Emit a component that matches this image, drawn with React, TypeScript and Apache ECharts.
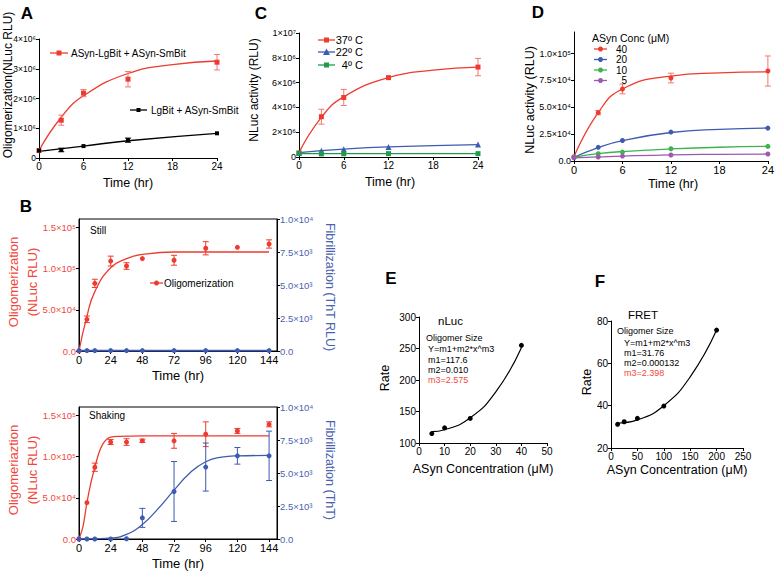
import React, { useEffect, useRef } from 'react';
import * as echarts from 'echarts';

const FF = '"Liberation Sans", Arial, Helvetica, sans-serif';

// ---------- Panel A ----------
const A_T = [0, 3, 6, 12, 24];
const A_RED = [0.25e6, 1.27e6, 2.18e6, 2.65e6, 3.22e6];
const A_RED_ERR = [0, 0.17e6, 0.12e6, 0.26e6, 0.26e6];
const A_BLACK = [0.25e6, 0.27e6, 0.4e6, 0.6e6, 0.83e6];
const A_BLACK_ERR = [0, 0.06e6, 0, 0.07e6, 0];
const A_RED_FIT_T = [0, 3, 6, 12, 18, 24];
const A_RED_FIT = [0.25e6, 1.37e6, 2.09e6, 2.84e6, 3.14e6, 3.26e6];
const A_BLACK_FIT_T = [0, 6, 12, 24];
const A_BLACK_FIT = [0.22e6, 0.4e6, 0.58e6, 0.83e6];
const A_Y_TICKS = [0, 1e6, 2e6, 3e6, 4e6];
const A_Y_LABELS = ['0', '1×10⁶', '2×10⁶', '3×10⁶', '4×10⁶'];

// ---------- Panel C ----------
const C_T = [0, 3, 6, 12, 24];
const C_37 = [0.32e6, 3.25e6, 4.8e6, 6.4e6, 7.25e6];
const C_37_ERR = [0, 0.6e6, 0.65e6, 0, 0.7e6];
const C_22 = [0.35e6, 0.5e6, 0.62e6, 0.8e6, 1.0e6];
const C_4 = [0.3e6, 0.25e6, 0.26e6, 0.27e6, 0.27e6];
const C_37_FIT_T = [0, 3, 6, 12, 18, 24];
const C_37_FIT = [0.35e6, 3.2e6, 4.85e6, 6.4e6, 7.0e6, 7.25e6];
const C_22_FIT_T = [0, 6, 12, 24];
const C_22_FIT = [0.35e6, 0.63e6, 0.81e6, 1.0e6];
const C_4_FIT_T = [0, 24];
const C_4_FIT = [0.28e6, 0.28e6];
const C_Y_TICKS = [0, 2e6, 4e6, 6e6, 8e6, 1e7];
const C_Y_LABELS = ['0', '2×10⁶', '4×10⁶', '6×10⁶', '8×10⁶', '1×10⁷'];

// ---------- Panel D ----------
const D_T = [0, 3, 6, 12, 24];
const D_40 = [0.4e4, 4.5e4, 6.7e4, 7.72e4, 8.37e4];
const D_40_ERR = [0, 0.2e4, 0.45e4, 0.45e4, 1.4e4];
const D_20 = [0.35e4, 1.27e4, 1.91e4, 2.69e4, 3.06e4];
const D_10 = [0.35e4, 0.68e4, 0.83e4, 1.14e4, 1.36e4];
const D_5 = [0.3e4, 0.37e4, 0.46e4, 0.56e4, 0.65e4];
const D_40_FIT_T = [0, 3, 6, 12, 18, 24];
const D_40_FIT = [0.4e4, 4.5e4, 6.7e4, 7.9e4, 8.2e4, 8.3e4];
const D_20_FIT_T = [0, 3, 6, 12, 18, 24];
const D_20_FIT = [0.35e4, 1.25e4, 1.9e4, 2.65e4, 2.95e4, 3.07e4];
const D_10_FIT_T = [0, 3, 6, 12, 18, 24];
const D_10_FIT = [0.35e4, 0.68e4, 0.88e4, 1.12e4, 1.28e4, 1.36e4];
const D_5_FIT_T = [0, 3, 6, 12, 18, 24];
const D_5_FIT = [0.3e4, 0.38e4, 0.46e4, 0.57e4, 0.62e4, 0.65e4];
const D_Y_TICKS = [0, 2.5e4, 5e4, 7.5e4, 1e5];
const D_Y_LABELS = ['0.0', '2.5×10⁴', '5.0×10⁴', '7.5×10⁴', '1.0×10⁵'];

// ---------- Panel B ----------
const B_T = [0, 6, 12, 24, 36, 48, 72, 96, 120, 144];
const B_X_TICKS = [0, 24, 48, 72, 96, 120, 144];
const B_L_TICKS = [0, 5e4, 1e5, 1.5e5];
const B_L_LABELS = ['0.0', '5.0×10⁴', '1.0×10⁵', '1.5×10⁵'];
const B_R_TICKS = [0, 2500, 5000, 7500, 10000];
const B_R_LABELS = ['0.0', '2.5×10³', '5.0×10³', '7.5×10³', '1.0×10⁴'];

const STILL_OLIG = [0, 3.84e4, 8.2e4, 1.09e5, 1.03e5, 1.12e5, 1.1e5, 1.245e5, 1.257e5, 1.297e5];
const STILL_OLIG_ERR = [0, 0.4e4, 0.5e4, 0.6e4, 0.4e4, 0, 0.6e4, 0.8e4, 0, 0.5e4];
const STILL_FIB = [30, 30, 30, 30, 30, 30, 30, 30, 30, 30];
const STILL_FIT_T = [0, 6, 12, 24, 36, 48, 72, 96, 144];
const STILL_FIT = [0, 4.2e4, 7.2e4, 1.01e5, 1.12e5, 1.17e5, 1.2e5, 1.2e5, 1.2e5];

const SHAKE_OLIG = [0, 4.4e4, 8.7e4, 1.175e5, 1.175e5, 1.19e5, 1.19e5, 1.27e5, 1.31e5, 1.39e5];
const SHAKE_OLIG_ERR = [0, 0, 0.5e4, 0.3e4, 0.4e4, 0.2e4, 0.9e4, 1.5e4, 0.3e4, 0.3e4];
const SHAKE_FIB = [0, 0, 0, 0, 20, 1600, 3600, 5450, 6300, 6300];
const SHAKE_FIB_ERR = [0, 0, 0, 0, 0, 720, 2270, 1820, 630, 1870];
const SHAKE_OLIG_FIT_T = [0, 3, 6, 9, 12, 15, 18, 21, 24, 30, 48, 144];
const SHAKE_OLIG_FIT = [0, 1.5e4, 4.4e4, 6.8e4, 8.7e4, 1.04e5, 1.15e5, 1.21e5, 1.235e5, 1.245e5, 1.25e5, 1.25e5];
const SHAKE_FIB_FIT_T = [0, 24, 36, 48, 60, 72, 84, 96, 108, 120, 144];
const SHAKE_FIB_FIT = [0, 70, 350, 1100, 2300, 3700, 5000, 5850, 6200, 6300, 6330];

// ---------- Panel E ----------
const E_X = [5, 10, 20, 40];
const E_Y = [115, 124, 139, 255];
const E_FIT_X = [5, 10, 20, 30, 40];
const E_FIT_Y = [118, 121, 140, 181, 251];

// ---------- Panel F ----------
const F_X = [12.5, 25, 50, 100, 200];
const F_Y = [31.2, 32.4, 34.0, 39.8, 75.7];
const F_FIT_X = [12.5, 50, 100, 150, 200];
const F_FIT_Y = [31.8, 33.3, 40.0, 53.6, 75.7];

// ---------- colours ----------
const RED = '#ee3b2f';
const RED_TXT = '#f0473c';
const BLUE = '#3d5bb0';
const BLUE_TXT = '#4b62b1';
const GREEN = '#1e9c4c';
const D_GREEN = '#3cb44a';
const PURPLE = '#9d59b0';

function pairs(xs: number[], ys: number[]) {
  return xs.map((x, i) => [x, ys[i]]);
}
function triples(xs: number[], ys: number[], es: number[]) {
  return xs.map((x, i) => [x, ys[i], es[i]]).filter((d) => d[2] > 0);
}
function labelFrom(ticks: number[], labels: string[]) {
  return (v: number) => {
    const i = ticks.findIndex((t) => Math.abs(t - v) <= 1e-6 * Math.max(1, Math.abs(t)));
    return i >= 0 ? labels[i] : '';
  };
}

function xAx(grid: number, min: number, max: number, interval: number | null, fontSize: number, extra: any = {}) {
  const o: any = {
    type: 'value',
    gridIndex: grid,
    min,
    max,
    axisLine: { onZero: false, lineStyle: { color: '#000', width: 1 } },
    axisTick: { length: 3, lineStyle: { color: '#000' } },
    axisLabel: { fontSize, color: '#000', fontFamily: FF, margin: 3 },
    splitLine: { show: false },
  };
  if (interval != null) o.interval = interval;
  return { ...o, ...extra, axisLabel: { ...o.axisLabel, ...(extra.axisLabel || {}) }, axisTick: { ...o.axisTick, ...(extra.axisTick || {}) } };
}

function yAx(grid: number, min: number, max: number, interval: number | null, fontSize: number, extra: any = {}) {
  return xAx(grid, min, max, interval, fontSize, extra);
}

function fit(name: string, xi: number, yi: number, xs: number[], ys: number[], color: string, width = 1.3, smooth: any = true) {
  return {
    name,
    type: 'line',
    xAxisIndex: xi,
    yAxisIndex: yi,
    data: pairs(xs, ys),
    smooth,
    showSymbol: false,
    symbol: 'none',
    lineStyle: { color, width },
    itemStyle: { color },
    silent: true,
    z: 2,
  };
}

function pts(name: string, xi: number, yi: number, xs: number[], ys: number[], color: string, symbol = 'circle', size = 5) {
  return {
    name,
    type: 'scatter',
    xAxisIndex: xi,
    yAxisIndex: yi,
    data: pairs(xs, ys),
    symbol,
    symbolSize: size,
    itemStyle: { color, opacity: 1 },
    silent: true,
    z: 4,
  };
}

function errs(name: string, xi: number, yi: number, xs: number[], ys: number[], es: number[], color: string, cap = 3) {
  return {
    name,
    type: 'custom',
    xAxisIndex: xi,
    yAxisIndex: yi,
    data: triples(xs, ys, es),
    encode: { x: 0, y: 1 },
    silent: true,
    z: 3,
    renderItem: (_p: any, api: any) => {
      const x = api.value(0);
      const y = api.value(1);
      const e = api.value(2);
      const lo = api.coord([x, y - e]);
      const hi = api.coord([x, y + e]);
      const s = { stroke: color, lineWidth: 1 };
      return {
        type: 'group',
        children: [
          { type: 'line', shape: { x1: lo[0], y1: lo[1], x2: hi[0], y2: hi[1] }, style: s },
          { type: 'line', shape: { x1: lo[0] - cap, y1: lo[1], x2: lo[0] + cap, y2: lo[1] }, style: s },
          { type: 'line', shape: { x1: hi[0] - cap, y1: hi[1], x2: hi[0] + cap, y2: hi[1] }, style: s },
        ],
      };
    },
  };
}

function txt(text: string, x: number, y: number, size: number, opts: any = {}) {
  const align = opts.align || 'center';
  return {
    type: 'text',
    x,
    y,
    rotation: opts.rot || 0,
    silent: true,
    z: 10,
    style: {
      text,
      font: `${opts.bold ? 'bold ' : ''}${size}px ${FF}`,
      fill: opts.color || '#000',
      textAlign: align,
      textVerticalAlign: 'middle',
      align,
      verticalAlign: 'middle',
    },
  };
}

function marker(cx: number, cy: number, color: string, kind: string, s = 5) {
  if (kind === 'rect') return { type: 'rect', shape: { x: cx - s / 2, y: cy - s / 2, width: s, height: s }, style: { fill: color }, silent: true, z: 10 };
  if (kind === 'triangle')
    return {
      type: 'polygon',
      shape: { points: [[cx, cy - s / 2 - 0.5], [cx - s / 2 - 0.5, cy + s / 2], [cx + s / 2 + 0.5, cy + s / 2]] },
      style: { fill: color },
      silent: true,
      z: 10,
    };
  return { type: 'circle', shape: { cx, cy, r: s / 2 }, style: { fill: color }, silent: true, z: 10 };
}

function legLine(x1: number, x2: number, y: number, color: string, kind: string, s = 5) {
  return [
    { type: 'line', shape: { x1, y1: y, x2, y2: y }, style: { stroke: color, lineWidth: 1.3 }, silent: true, z: 10 },
    marker((x1 + x2) / 2, y, color, kind, s),
  ];
}

function buildOption(): any {
  const grids = [
    { left: 39, top: 39, width: 178, height: 119 }, // A
    { left: 299, top: 33, width: 179, height: 124 }, // C
    { left: 574, top: 32, width: 197, height: 129 }, // D
    { left: 79, top: 219, width: 198, height: 132, show: true, borderColor: '#000', borderWidth: 1 }, // B still
    { left: 79, top: 407, width: 198, height: 132, show: true, borderColor: '#000', borderWidth: 1 }, // B shaking
    { left: 419, top: 317, width: 128, height: 126 }, // E
    { left: 611, top: 321, width: 132, height: 127 }, // F
  ];

  const xAxis = [
    xAx(0, 0, 24, 6, 10),
    xAx(1, 0, 24, 6, 10),
    xAx(2, 0, 24, 6, 11),
    xAx(3, 0, 150, null, 11, { axisLabel: { customValues: B_X_TICKS }, axisTick: { customValues: B_X_TICKS } }),
    xAx(4, 0, 150, null, 11, { axisLabel: { customValues: B_X_TICKS }, axisTick: { customValues: B_X_TICKS } }),
    xAx(5, 0, 50, 10, 10),
    xAx(6, 0, 250, 50, 10),
  ];

  const bLeft = (g: number) =>
    yAx(g, 0, 1.6e5, null, 9.5, {
      axisLabel: { customValues: B_L_TICKS, formatter: labelFrom(B_L_TICKS, B_L_LABELS), color: RED_TXT },
      axisTick: { customValues: B_L_TICKS },
    });
  const bRight = (g: number) =>
    yAx(g, 0, 1e4, 2500, 9.5, {
      position: 'right',
      axisLabel: { formatter: labelFrom(B_R_TICKS, B_R_LABELS), color: BLUE_TXT },
    });

  const yAxis = [
    yAx(0, 0, 4e6, 1e6, 8.5, { axisLabel: { formatter: labelFrom(A_Y_TICKS, A_Y_LABELS) } }), // 0 A
    yAx(1, 0, 1e7, 2e6, 9, { axisLabel: { formatter: labelFrom(C_Y_TICKS, C_Y_LABELS) } }), // 1 C
    yAx(2, 0, 1.2e5, null, 9, {
      axisLabel: { customValues: D_Y_TICKS, formatter: labelFrom(D_Y_TICKS, D_Y_LABELS) },
      axisTick: { customValues: D_Y_TICKS },
    }), // 2 D
    bLeft(3), // 3
    bRight(3), // 4
    bLeft(4), // 5
    bRight(4), // 6
    yAx(5, 100, 300, 50, 10), // 7 E
    yAx(6, 20, 80, 20, 10), // 8 F
  ];

  const series: any[] = [
    // A
    fit('ASyn-LgBit + ASyn-SmBit fit', 0, 0, A_RED_FIT_T, A_RED_FIT, RED),
    fit('LgBit + ASyn-SmBit fit', 0, 0, A_BLACK_FIT_T, A_BLACK_FIT, '#000'),
    errs('A red err', 0, 0, A_T, A_RED, A_RED_ERR, '#f07870'),
    errs('A black err', 0, 0, A_T, A_BLACK, A_BLACK_ERR, '#000'),
    pts('ASyn-LgBit + ASyn-SmBit', 0, 0, A_T, A_RED, RED, 'rect', 5),
    pts('LgBit + ASyn-SmBit', 0, 0, A_T, A_BLACK, '#000', 'rect', 4),
    // C
    fit('37º C fit', 1, 1, C_37_FIT_T, C_37_FIT, RED),
    fit('22º C fit', 1, 1, C_22_FIT_T, C_22_FIT, BLUE),
    fit('4º C fit', 1, 1, C_4_FIT_T, C_4_FIT, GREEN),
    errs('C 37 err', 1, 1, C_T, C_37, C_37_ERR, '#f07870'),
    pts('37º C', 1, 1, C_T, C_37, RED, 'rect', 5),
    pts('22º C', 1, 1, C_T, C_22, BLUE, 'triangle', 6),
    pts('4º C', 1, 1, C_T, C_4, GREEN, 'rect', 5),
    // D
    fit('40 fit', 2, 2, D_40_FIT_T, D_40_FIT, RED),
    fit('20 fit', 2, 2, D_20_FIT_T, D_20_FIT, BLUE),
    fit('10 fit', 2, 2, D_10_FIT_T, D_10_FIT, D_GREEN),
    fit('5 fit', 2, 2, D_5_FIT_T, D_5_FIT, PURPLE),
    errs('D 40 err', 2, 2, D_T, D_40, D_40_ERR, '#f07870'),
    pts('40', 2, 2, D_T, D_40, RED),
    pts('20', 2, 2, D_T, D_20, BLUE),
    pts('10', 2, 2, D_T, D_10, D_GREEN),
    pts('5', 2, 2, D_T, D_5, PURPLE),
    // B still
    fit('Still oligomerization fit', 3, 3, STILL_FIT_T, STILL_FIT, RED),
    fit('Still fibrillization line', 3, 4, B_T, STILL_FIB, BLUE, 1.8, false),
    errs('Still olig err', 3, 3, B_T, STILL_OLIG, STILL_OLIG_ERR, RED),
    pts('Oligomerization', 3, 3, B_T, STILL_OLIG, RED, 'circle', 5),
    pts('Still fibrillization', 3, 4, B_T, STILL_FIB, BLUE, 'circle', 5),
    // B shaking
    fit('Shaking oligomerization fit', 4, 5, SHAKE_OLIG_FIT_T, SHAKE_OLIG_FIT, RED, 1.3, 0.3),
    fit('Shaking fibrillization fit', 4, 6, SHAKE_FIB_FIT_T, SHAKE_FIB_FIT, BLUE),
    errs('Shaking olig err', 4, 5, B_T, SHAKE_OLIG, SHAKE_OLIG_ERR, RED),
    errs('Shaking fib err', 4, 6, B_T, SHAKE_FIB, SHAKE_FIB_ERR, BLUE),
    pts('Shaking oligomerization', 4, 5, B_T, SHAKE_OLIG, RED, 'circle', 5),
    pts('Shaking fibrillization', 4, 6, B_T, SHAKE_FIB, BLUE, 'circle', 5),
    // E
    fit('nLuc fit', 5, 7, E_FIT_X, E_FIT_Y, '#000', 1.2),
    pts('nLuc', 5, 7, E_X, E_Y, '#000', 'circle', 5),
    // F
    fit('FRET fit', 6, 8, F_FIT_X, F_FIT_Y, '#000', 1.2),
    pts('FRET', 6, 8, F_X, F_Y, '#000', 'circle', 5),
  ];

  const g: any[] = [
    // panel letters
    txt('A', 27, 13, 17, { bold: true }),
    txt('C', 261, 13, 17, { bold: true }),
    txt('D', 538, 12, 17, { bold: true }),
    txt('B', 26, 206, 17, { bold: true }),
    txt('E', 391, 278, 17, { bold: true }),
    txt('F', 600, 281, 17, { bold: true }),
    // A titles + legend
    txt('Oligomerization(NLuc RLU)', 8, 85, 12, { rot: Math.PI / 2 }),
    txt('Time (hr)', 128, 183, 12.5),
    ...legLine(50, 68, 53, RED, 'rect'),
    txt('ASyn-LgBit + ASyn-SmBit', 71, 53, 10, { align: 'left' }),
    ...legLine(130, 147, 110, '#000', 'rect', 4),
    txt('LgBit + ASyn-SmBit', 151, 110, 10, { align: 'left' }),
    // C
    txt('NLuc activity (RLU)', 254, 90, 12, { rot: Math.PI / 2 }),
    txt('Time (hr)', 390, 182, 12.5),
    ...legLine(318, 335, 40, RED, 'rect'),
    txt('37º C', 363, 40, 11, { align: 'right' }),
    ...legLine(318, 335, 52, BLUE, 'triangle', 6),
    txt('22º C', 363, 52, 11, { align: 'right' }),
    ...legLine(318, 335, 65, GREEN, 'rect'),
    txt('4º C', 363, 65, 11, { align: 'right' }),
    // D
    txt('NLuc activity (RLU)', 530, 100, 12.5, { rot: Math.PI / 2 }),
    txt('Time (hr)', 673, 184, 12.5),
    txt('ASyn Conc (μM)', 592, 38, 10.5, { align: 'left' }),
    ...legLine(594, 607, 49, RED, 'circle'),
    txt('40', 627, 49, 10, { align: 'right' }),
    ...legLine(594, 607, 59.5, BLUE, 'circle'),
    txt('20', 627, 59.5, 10, { align: 'right' }),
    ...legLine(594, 607, 70, D_GREEN, 'circle'),
    txt('10', 627, 70, 10, { align: 'right' }),
    ...legLine(594, 607, 80.5, PURPLE, 'circle'),
    txt('5', 627, 80.5, 10, { align: 'right' }),
    // B still
    txt('Oligomerization', 13, 282, 13, { rot: Math.PI / 2, color: RED_TXT }),
    txt('(NLuc RLU)', 32, 282, 13, { rot: Math.PI / 2, color: RED_TXT }),
    txt('Fibrillization (ThT RLU)', 330, 287, 12.5, { rot: -Math.PI / 2, color: BLUE_TXT }),
    txt('Time (hr)', 178, 375, 13),
    txt('Still', 90, 230, 10, { align: 'left' }),
    ...legLine(150, 163, 283, RED, 'circle'),
    txt('Oligomerization', 164, 283, 10, { align: 'left' }),
    // B shaking
    txt('Oligomeriaztion', 13, 470, 13, { rot: Math.PI / 2, color: RED_TXT }),
    txt('(NLuc RLU)', 32, 470, 13, { rot: Math.PI / 2, color: RED_TXT }),
    txt('Fibrillization (ThT)', 330, 470, 12.5, { rot: -Math.PI / 2, color: BLUE_TXT }),
    txt('Time (hr)', 178, 563, 13),
    txt('Shaking', 89, 415, 10, { align: 'left' }),
    // E
    txt('Rate', 385, 378, 12.5, { rot: Math.PI / 2 }),
    txt('ASyn Concentration (μM)', 483, 469, 12.5),
    txt('nLuc', 438, 321, 11.5, { align: 'left' }),
    txt('Oligomer Size', 426, 338, 9, { align: 'left' }),
    txt('Y=m1+m2*x^m3', 428, 349, 9, { align: 'left' }),
    txt('m1=117.6', 428, 360, 9, { align: 'left' }),
    txt('m2=0.010', 428, 370, 9, { align: 'left' }),
    txt('m3=2.575', 428, 380, 9, { align: 'left', color: RED_TXT }),
    // F
    txt('Rate', 587, 382, 12.5, { rot: Math.PI / 2 }),
    txt('ASyn Concentration (μM)', 677, 470, 12.5),
    txt('FRET', 628, 315, 11.5, { align: 'left' }),
    txt('Oligomer Size', 617, 331, 9, { align: 'left' }),
    txt('Y=m1+m2*x^m3', 624, 343, 9, { align: 'left' }),
    txt('m1=31.76', 624, 353, 9, { align: 'left' }),
    txt('m2=0.000132', 624, 363, 9, { align: 'left' }),
    txt('m3=2.398', 624, 373, 9, { align: 'left', color: RED_TXT }),
  ];

  return {
    animation: false,
    backgroundColor: '#fff',
    textStyle: { fontFamily: FF },
    grid: grids,
    xAxis,
    yAxis,
    series,
    graphic: { elements: g },
  };
}

export default function App() {
  const ref = useRef<HTMLDivElement>(null);
  useEffect(() => {
    if (!ref.current) return;
    const chart = echarts.init(ref.current, null, { renderer: 'svg' });
    chart.setOption(buildOption());
    return () => chart.dispose();
  }, []);
  return (
    <div
      ref={ref}
      style={{ position: 'fixed', left: 0, top: 0, width: 777, height: 573, background: '#fff' }}
    />
  );
}
